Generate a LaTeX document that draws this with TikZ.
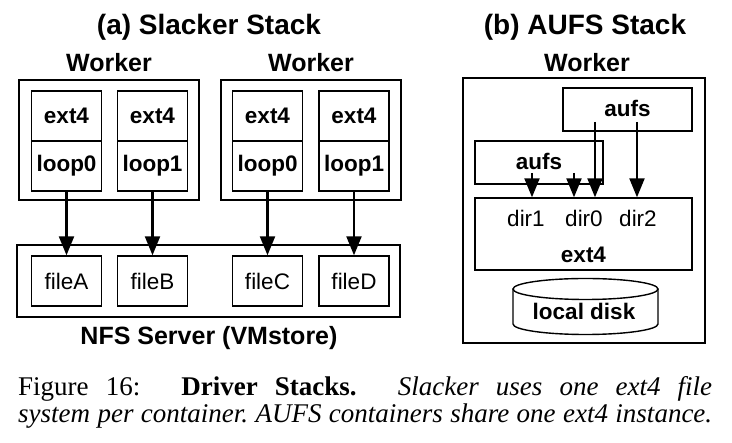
\documentclass[tikz,border=0pt]{standalone}
\usepackage{fontspec}
\setmainfont{Liberation Serif}
\setsansfont{Liberation Sans}
\usetikzlibrary{arrows.meta}
\tikzset{
    box/.style={draw=black, line width=1.4pt, inner sep=0pt},
    cell/.style={box, minimum width=70pt, minimum height=50pt,
        font=\sffamily\bfseries\fontsize{22.5}{22.5}\selectfont},
    filebox/.style={box, minimum width=70pt, minimum height=50pt,
        font=\sffamily\fontsize{22.5}{22.5}\selectfont},
    title/.style={anchor=base, inner sep=0pt, font=\sffamily\bfseries\fontsize{28}{28}\selectfont},
    heading/.style={anchor=base, inner sep=0pt, font=\sffamily\bfseries\fontsize{25}{25}\selectfont},
    boldlabel/.style={anchor=base, inner sep=0pt, font=\sffamily\bfseries\fontsize{22.5}{22.5}\selectfont},
    dirlabel/.style={anchor=base, inner sep=0pt, font=\sffamily\fontsize{22.5}{22.5}\selectfont},
    arr/.style={draw=black, line width=2.2pt, -{Triangle[length=19pt,width=15pt]}},
    captionline/.style={anchor=base west, inner sep=0pt, font=\fontsize{27}{27}\selectfont},
}

\begin{document}
\begin{tikzpicture}[x=1pt,y=-1pt]
\useasboundingbox (0,0) rectangle (732,443);
 % (a) Slacker stack
 \begin{scope}
	\node[title] (ta) at (209,35) {(a) Slacker Stack};
	\node[heading] (hw1) at (109,72) {Worker};
	\node[heading] (hw2) at (311,72) {Worker};
	\node[box, minimum width=180pt, minimum height=120pt] (wk1) at (109,140) {};
	\node[box, minimum width=180pt, minimum height=120pt] (wk2) at (311,140) {};
	\node[cell] (e1) at (66.5,116) {ext4};
	\node[cell] (l1) at (66.5,166) {loop0};
	\node[cell] (e2) at (152.5,116) {ext4};
	\node[cell] (l2) at (152.5,166) {loop1};
	\node[cell] (e3) at (267.5,116) {ext4};
	\node[cell] (l3) at (267.5,166) {loop0};
	\node[cell] (e4) at (354,116) {ext4};
	\node[cell] (l4) at (354,166) {loop1};
	\node[box, minimum width=383pt, minimum height=72pt] (nfs) at (208.5,281) {};
	\node[filebox] (fa) at (66.5,281) {fileA};
	\node[filebox] (fb) at (152.5,281) {fileB};
	\node[filebox] (fc) at (267.5,281) {fileC};
	\node[filebox] (fd) at (354,281) {fileD};
	\node[heading] (hnfs) at (209,345) {NFS Server (VMstore)};
	\draw[arr] (l1) -- (fa);
	\draw[arr] (l2) -- (fb);
	\draw[arr] (l3) -- (fc);
	\draw[arr] (l4) -- (fd);
 \end{scope}
 % (b) AUFS stack
 \begin{scope}
	\node[title] (tb) at (585,35) {(b) AUFS Stack};
	\node[heading] (hw3) at (587,72) {Worker};
	\node[box, minimum width=242pt, minimum height=265pt] (wk3) at (584,210.5) {};
	\node[box, minimum width=129pt, minimum height=43pt,
		font=\sffamily\bfseries\fontsize{22.5}{22.5}\selectfont] (aufsR) at (627.5,109.5) {\raisebox{2pt}{aufs}};
	\node[box, minimum width=128pt, minimum height=43pt,
		font=\sffamily\bfseries\fontsize{22.5}{22.5}\selectfont] (aufsL) at (539,162.5) {\raisebox{2pt}{aufs}};
	\node[box, minimum width=217pt, minimum height=72pt] (ext) at (583.5,234) {};
	\node[dirlabel] (d1) at (526,227) {dir1};
	\node[dirlabel] (d0) at (584,227) {dir0};
	\node[dirlabel] (d2) at (638,227) {dir2};
	\node[boldlabel] (lext) at (583.5,263) {ext4};
	\coordinate (s1) at (532,173);
	\coordinate (s2) at (574,173);
	\coordinate (s3) at (595,122);
	\coordinate (s4) at (637,122);
	\draw[arr] (s1) -- (s1 |- ext.north);
	\draw[arr] (s2) -- (s2 |- ext.north);
	\draw[arr] (s3) -- (s3 |- ext.north);
	\draw[arr] (s4) -- (s4 |- ext.north);
	% disk
	\draw[box] (585.5,289) ellipse [x radius=72.5pt, y radius=10.5pt];
	\draw[box] (513,289) -- (513,324) arc[start angle=180, end angle=360, x radius=72.5pt, y radius=10.5pt] -- (658,289);
	\node[boldlabel] (disk) at (584,320) {local disk};
 \end{scope}
 % caption
	\node[captionline] (cap1) at (18,396) {\frenchspacing\makebox[694pt][s]{Figure 16:\hspace{24pt} \textbf{Driver Stacks.}\hspace{24pt} \textit{Slacker uses one ext4 file}}};
	\node[captionline] (cap2) at (18,423) {\frenchspacing\makebox[694pt][s]{\textit{system per container. AUFS containers share one ext4 instance.}}};
\end{tikzpicture}
\end{document}
